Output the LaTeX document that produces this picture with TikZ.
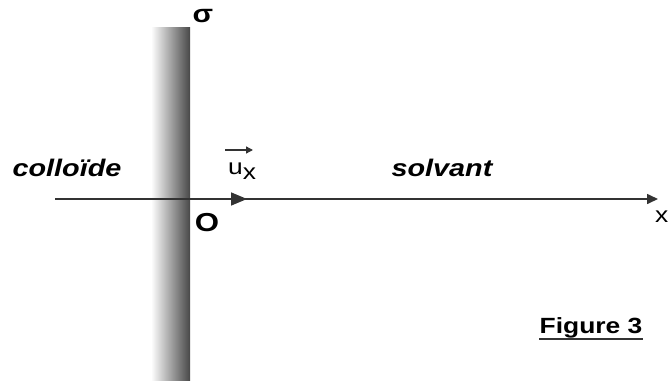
\documentclass[tikz,border=0pt]{standalone}
\usepackage{fontspec}
\setmainfont{Liberation Sans}
\newfontfamily\widefont[FakeStretch=1.2]{Liberation Sans}
\usetikzlibrary{positioning, arrows.meta}

\begin{document}
\begin{tikzpicture}[x=1pt, y=-1pt,
    region/.style={inner sep=0pt, anchor=base, font=\widefont\fontsize{24}{26}\selectfont\bfseries\itshape},
    axislabel/.style={inner sep=0pt, anchor=base, font=\widefont\fontsize{23}{26}\selectfont},
    axisline/.style={line width=1.6pt, black!80, -{Triangle[length=11pt, width=10pt]}},
    unitvec/.style={line width=1.6pt, black!80, -{Triangle[length=16pt, width=13pt]}}
  ]
  \useasboundingbox (0,0) rectangle (669,380);
  % surface chargee
  \shade[left color=white, right color=black!72] (151,27) rectangle (190,380);

  \coordinate (O) at (190,199);
  \coordinate (xstart) at (55,199);
  \coordinate (xend) at (658,199);
  \coordinate (uend) at (247,199);
  \coordinate (vtail) at (225,150);
  \coordinate (vhead) at (253,150);

  \draw [axisline] (xstart) -- (xend);
  \draw [unitvec] (O) -- (uend);

  \node [region] (colloide) at (67,176) {colloïde};
  \node [region] (solvant) at (442,176) {solvant};
  \node [axislabel, font=\widefont\fontsize{26}{28}\selectfont\bfseries] (origin) at (207,231) {O};
  \node [axislabel, anchor=base west, font=\widefont\fontsize{22}{26}\selectfont] (xlabel) at (655,222) {x};
  \node [axislabel, font=\widefont\fontsize{25}{26}\selectfont\bfseries] (sigma) at (203,23) {σ};
  \node [axislabel, anchor=base west, font=\widefont\fontsize{22}{24}\selectfont] (ux) at (228,174) {u\raisebox{-5pt}{x}};
  \draw [line width=1.3pt, black!80, -{Triangle[length=7pt, width=7pt]}] (vtail) -- (vhead);

  \node [axislabel, font=\widefont\fontsize{22}{24}\selectfont\bfseries] (figure) at (591,333) {Figure 3};
  \draw [line width=2pt, black!80] ([yshift=-6pt]figure.base west) -- ([yshift=-6pt]figure.base east);
\end{tikzpicture}
\end{document}
